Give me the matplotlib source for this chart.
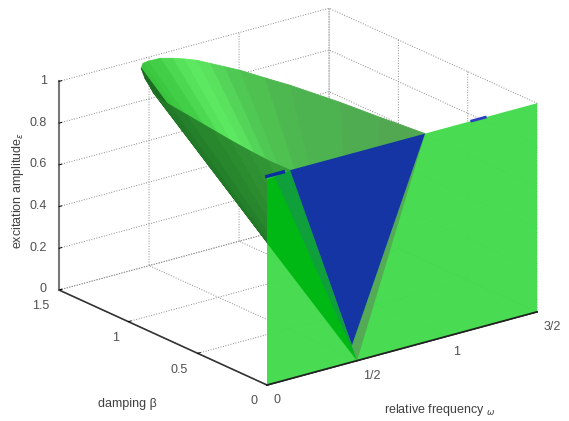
import numpy as np
import matplotlib
matplotlib.use('Agg')
import matplotlib.pyplot as plt
from mpl_toolkits.mplot3d import proj3d
from mpl_toolkits.mplot3d.art3d import Poly3DCollection

plt.rcParams['font.family'] = ['Liberation Sans', 'DejaVu Sans']
plt.rcParams['grid.linestyle'] = ':'
plt.rcParams['grid.linewidth'] = 0.7
plt.rcParams['grid.color'] = '#8a8a8a'

# rim of the tongue at excitation = 1
rim_omega = [.128, .125, .135, .148, .165, .19, .205, .221, .245, .27, .323, .355, .386,
             .431, .463, .529, .574, .608, .642, .665, .69, .716, .745, .776, .82, .845, .878]
rim_beta = [0, .15, .3, .45, .6, .82, .96, 1.079, 1.14, 1.19, 1.30, 1.355, 1.409,
            1.453, 1.46, 1.457, 1.423, 1.385, 1.338, 1.27, 1.20, 1.124, .98, .841, .538, .282, 0]
tip = 12
apex = (.5, 0, 0)

near_colors = ['#349a38', '#319535', '#2e9032', '#2b8b2f', '#28862d', '#25802b', '#227a28',
               '#1f7525', '#1d7123', '#1b6d21', '#1a6b20', '#1a6920']
far_colors = ['#3ac43d', '#3cc840', '#42ce46', '#4cd850', '#56e25a', '#5ce860', '#5ae25e',
              '#54d458', '#50c954', '#4ec151', '#4db84f', '#4db250', '#4fac50', '#51a851']

# regions on the beta = 0 plane (omega, excitation)
plane_omega = [0, 1.5, 1.5, 0]
plane_exc = [0, 0, 1, 1]
bright_omega = [0, 0, .128, .5]
bright_exc = [.68, .985, 1, 0]
mid_omega = [.044, .128, .5]
mid_exc = [.985, 1, 0]
blue_omega = [.128, .878, .472]
blue_exc = [1, 1, .08]
strip_omega = [.878, .5, .472]
strip_exc = [1, 0, .08]

# short blue marks on the top edge
mark1_omega = [-.01, .1]
mark2_omega = [1.13, 1.22]

x_ticks = [0, .5, 1, 1.5]
x_labels = ['0', '1/2', '1', '3/2']
y_ticks = [0, .5, 1, 1.5]
y_labels = ['0', '0.5', '1', '1.5']
z_ticks = [0, .2, .4, .6, .8, 1]
z_labels = ['0', '0.2', '0.4', '0.6', '0.8', '1']

fig = plt.figure(figsize=(5.69, 4.21), dpi=100)
ax = fig.add_axes([.1, .1, .8, .8], projection='3d', proj_type='ortho',
                  computed_zorder=False)
ax.view_init(elev=20.6, azim=-127.6)
ax.set_box_aspect((341, 341, 223))
ax.set_xlim(0, 1.5, view_margin=0)
ax.set_ylim(0, 1.5, view_margin=0)
ax.set_zlim(0, 1, view_margin=0)

ax.set_xticks(x_ticks, x_labels, ha='left')
ax.set_yticks(y_ticks, y_labels, ha='right')
ax.set_zticks(z_ticks, z_labels, ha='right', va='center')
ax.tick_params(labelsize=9, labelcolor='#505050')
ax.xaxis.set_tick_params(pad=-2)
ax.yaxis.set_tick_params(pad=-1)
ax.zaxis.set_tick_params(pad=-3)
for axis, col, lw in ((ax.xaxis, '#222222', 1.2), (ax.yaxis, '#333333', 1.2),
                      (ax.zaxis, '#777777', 1.5)):
    axis.pane.set_visible(False)
    axis.line.set_color(col)
    axis.line.set_linewidth(lw)
    axis._axinfo['tick']['inward_factor'] = 0
    axis._axinfo['tick']['outward_factor'] = .12
    axis._axinfo['tick']['color'] = '#444444'
    axis._axinfo['tick']['linewidth'] = {True: .7, False: .5}

def fan(i):
    return [apex, (rim_omega[i], rim_beta[i], 1), (rim_omega[i+1], rim_beta[i+1], 1)]

far = Poly3DCollection([fan(i) for i in range(tip, len(rim_omega)-1)],
                       facecolors=far_colors, edgecolors=far_colors, linewidths=.6,
                       zorder=1)
near = Poly3DCollection([fan(i) for i in range(tip)],
                        facecolors=near_colors, edgecolors=near_colors, linewidths=.6,
                        zorder=2)
ax.add_collection3d(far)
ax.add_collection3d(near)

def on_plane(om, ex, color, z, alpha=1):
    poly = Poly3DCollection([list(zip(om, np.zeros(len(om)), ex))], facecolors=color,
                            edgecolors='none', alpha=alpha, zorder=z)
    ax.add_collection3d(poly)

on_plane(plane_omega, plane_exc, '#3fdb49', 3, alpha=.95)
on_plane(bright_omega, bright_exc, '#00b814', 4)
on_plane(mid_omega, mid_exc, '#0fa03c', 5)
on_plane(strip_omega, strip_exc, '#55ab55', 5)
on_plane(blue_omega, blue_exc, '#1535a5', 6)

ax.plot(mark1_omega, [0, 0], [1, 1], color='#0a30a0', lw=2.5, zorder=7, solid_capstyle='butt')
ax.plot(mark2_omega, [0, 0], [1, 1], color='#2a3fc0', lw=2, zorder=7, solid_capstyle='butt')
ax.plot([0, 1.5], [0, 0], [0, 0], color='#222222', lw=1.2, zorder=8)

fig.text(18/569, 1-190/421, 'excitation amplitude$_{\\epsilon}$', rotation=90, fontsize=9,
         color='#404040', ha='center', va='center')
fig.text(127/569, 1-404/421, 'damping β', fontsize=9, color='#404040', ha='center', va='center')
fig.text(440/569, 1-410/421, 'relative frequency $_{\\omega}$', fontsize=9, color='#404040',
         ha='center', va='center')

# fit the box onto the reference pixels
def px(x, y, z):
    X, Y, _ = proj3d.proj_transform(x, y, z, ax.get_proj())
    return ax.transData.transform((X, Y))

side = .8 * 421
cx, cy = 300., 210.
for _ in range(4):
    ax.set_position([(cx-side/2)/569, (cy-side/2)/421, side/569, side/421])
    fig.canvas.draw()
    a = px(0, 0, 0)
    b = px(1.5, 0, 0)
    side *= 270 / (b[0]-a[0])
    ax.set_position([(cx-side/2)/569, (cy-side/2)/421, side/569, side/421])
    fig.canvas.draw()
    a = px(0, 0, 0)
    cx += 267 - a[0]
    cy += (421-385) - a[1]
ax.set_position([(cx-side/2)/569, (cy-side/2)/421, side/569, side/421])

fig.savefig('out.png', dpi=100)
